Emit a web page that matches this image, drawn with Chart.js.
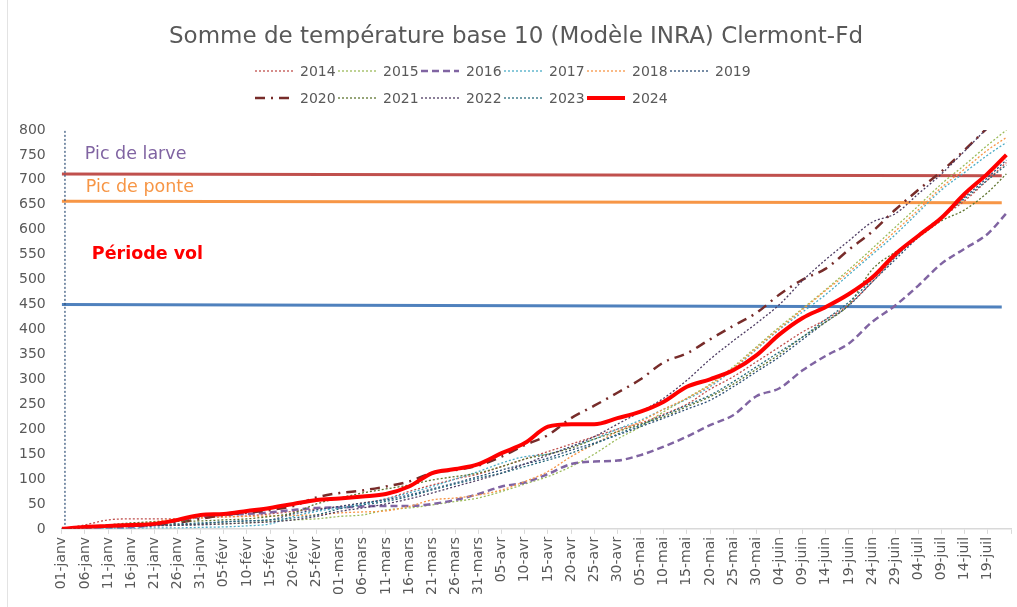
<!DOCTYPE html>
<html>
<head>
<meta charset="utf-8">
<script src="https://cdn.jsdelivr.net/npm/chart.js@4.4.1/dist/chart.umd.min.js"></script>
<style>
html, body { margin: 0; padding: 0; background: #fff; }
#wrap { position: relative; width: 1017px; height: 607px; }
#leftBorder { position: absolute; left: 7px; top: 0; width: 1px; height: 607px; background: #e3e3e3; }
#title { position: absolute; left: 0; top: 21px; width: 1032px; text-align: center; font: 23px "DejaVu Sans"; line-height: 28px; color: #595959; white-space: nowrap; }
#legend { position: absolute; left: 255px; top: 57px; font: 14px "DejaVu Sans"; color: #595959; }
.row { display: flex; height: 27px; align-items: center; }
.item { display: flex; align-items: center; width: 83px; }
.item canvas { margin-right: 7px; }
</style>
</head>
<body>
<div id="wrap">
  <canvas id="chart" width="1017" height="607"></canvas>
  <div id="leftBorder"></div>
  <div id="title">Somme de température base 10 (Modèle INRA) Clermont-Fd</div>
  <div id="legend"></div>
</div>
<script>
// Axis labels (one per day, 2024 is a leap year) : 01-janv .. 24-juil
const months = ['janv', 'févr', 'mars', 'avr', 'mai', 'juin', 'juil'];
const monthDays = [31, 29, 31, 30, 31, 30, 24];
const dayLabels = [];
months.forEach((m, i) => {
    for (let d = 1; d <= monthDays[i]; d++) {
        dayLabels.push(String(d).padStart(2, '0') + '-' + m);
    }
});
const lastIndex = dayLabels.length - 1; // 24-juil, tick drawn but not labelled

const days = [0, 5, 10, 15, 20, 25, 30, 35, 40, 45, 50, 55, 60, 65, 70, 75, 80, 85, 90, 95,
    100, 105, 110, 115, 120, 125, 130, 135, 140, 145, 150, 155, 160, 165, 170, 175, 180, 185, 190, 195, 200, 204];

const y2014 = [0, 8, 18, 20, 20, 20, 22, 24, 26, 30, 35, 40, 45, 52, 60, 75, 88, 100, 110, 125,
    140, 155, 170, 185, 200, 212, 230, 250, 280, 305, 335, 365, 395, 420, 450, 495, 545, 590, 625, 658, 700, 735];
const y2015 = [0, 2, 4, 6, 7, 8, 9, 10, 12, 15, 18, 20, 25, 28, 38, 42, 48, 55, 62, 75,
    90, 105, 125, 150, 180, 205, 235, 262, 290, 325, 365, 405, 442, 480, 520, 562, 605, 648, 692, 730, 770, 800];
const y2016 = [0, 1, 2, 3, 8, 16, 24, 28, 30, 33, 38, 42, 43, 45, 46, 46, 50, 58, 70, 85,
    93, 110, 130, 135, 137, 148, 165, 185, 208, 228, 266, 282, 318, 347, 372, 415, 448, 488, 532, 562, 592, 633];
const y2017 = [0, 0, 1, 1, 2, 2, 3, 4, 6, 10, 25, 35, 42, 50, 60, 72, 85, 100, 115, 132,
    145, 150, 165, 180, 200, 218, 240, 260, 285, 320, 360, 400, 435, 470, 510, 550, 590, 635, 680, 715, 750, 775];
const y2018 = [0, 3, 6, 10, 15, 20, 22, 24, 25, 26, 27, 28, 32, 34, 36, 45, 58, 62, 68, 78,
    95, 115, 145, 170, 195, 215, 240, 262, 288, 322, 362, 402, 440, 478, 515, 555, 597, 640, 685, 722, 760, 785];
const y2019 = [0, 3, 5, 6, 7, 8, 10, 14, 16, 18, 30, 38, 45, 52, 58, 68, 80, 92, 105, 118,
    130, 142, 158, 172, 188, 205, 222, 240, 258, 285, 315, 345, 380, 415, 448, 495, 540, 585, 625, 665, 705, 740];
const y2020 = [0, 3, 5, 6, 8, 12, 20, 28, 32, 38, 46, 63, 72, 77, 85, 95, 112, 118, 127, 145,
    168, 188, 222, 247, 273, 300, 334, 352, 380, 407, 433, 470, 500, 522, 560, 596, 640, 680, 717, 760, 805, 840];
const y2021 = [0, 3, 8, 12, 14, 15, 16, 18, 20, 25, 32, 50, 62, 72, 80, 88, 98, 105, 112, 125,
    140, 150, 162, 180, 195, 210, 225, 245, 265, 290, 320, 350, 385, 415, 450, 520, 555, 585, 618, 640, 675, 712];
const y2022 = [0, 2, 4, 5, 6, 7, 8, 10, 12, 14, 18, 25, 35, 42, 50, 60, 72, 85, 98, 112,
    130, 148, 165, 185, 210, 235, 262, 298, 340, 377, 412, 450, 498, 540, 578, 615, 632, 672, 712, 758, 805, 840];
const y2023 = [0, 4, 7, 8, 9, 10, 12, 14, 16, 18, 22, 28, 40, 48, 55, 65, 78, 90, 102, 112,
    125, 138, 152, 170, 190, 208, 228, 248, 268, 295, 325, 355, 385, 420, 455, 500, 545, 588, 625, 662, 700, 730];
const y2024 = [0, 4, 6, 8, 10, 18, 28, 30, 36, 42, 50, 58, 61, 65, 70, 85, 112, 120, 130, 152,
    172, 205, 210, 210, 222, 235, 255, 285, 300, 318, 348, 390, 423, 445, 471, 504, 551, 588, 624, 672, 713, 750];

// Reference levels [start, end] and the day span they cover
const levelDays = [0, 203];
const picLarve = [712, 708];
const picPonte = [657, 654];
const periodeVol = [450, 445];

// Stray vertical series at the start
const strayDays = [0.7, 0.7];
const strayValues = [0, 800];

const yTicks = [0, 50, 100, 150, 200, 250, 300, 350, 400, 450, 500, 550, 600, 650, 700, 750, 800];

const pts = (xs, ys) => xs.map((x, i) => ({ x: x, y: ys[i] }));
const DOT = [2, 2];

const series = [
    { label: '2014', data: y2014, color: '#c0504d', width: 1.3, dash: DOT },
    { label: '2015', data: y2015, color: '#9bbb59', width: 1.3, dash: DOT },
    { label: '2016', data: y2016, color: '#8064a2', width: 2.5, dash: [7, 4] },
    { label: '2017', data: y2017, color: '#4bacc6', width: 1.3, dash: DOT },
    { label: '2018', data: y2018, color: '#f79646', width: 1.3, dash: DOT },
    { label: '2019', data: y2019, color: '#2c4d75', width: 1.3, dash: DOT },
    { label: '2020', data: y2020, color: '#772c2a', width: 2.5, dash: [10, 6, 2, 6] },
    { label: '2021', data: y2021, color: '#5f7530', width: 1.3, dash: DOT },
    { label: '2022', data: y2022, color: '#4d3b62', width: 1.3, dash: DOT },
    { label: '2023', data: y2023, color: '#276a7c', width: 1.3, dash: DOT },
    { label: '2024', data: y2024, color: '#ff0000', width: 4, dash: [] }
];

const datasets = series.map((s, i) => ({
    label: s.label,
    data: pts(days, s.data),
    borderColor: s.color,
    borderWidth: s.width,
    borderDash: s.dash,
    pointRadius: 0,
    fill: false,
    cubicInterpolationMode: 'monotone',
    order: series.length - i
}));

const level = (label, values, color) => ({
    label: label,
    data: pts(levelDays, values),
    borderColor: color,
    borderWidth: 3,
    pointRadius: 0,
    fill: false,
    order: 30
});
datasets.push(level('larve', picLarve, '#c0504d'));
datasets.push(level('ponte', picPonte, '#f79646'));
datasets.push(level('vol', periodeVol, '#4f81bd'));
datasets.push({
    label: 'stray',
    data: pts(strayDays, strayValues),
    borderColor: '#2c4d75',
    borderWidth: 1.2,
    borderDash: DOT,
    pointRadius: 0,
    order: 25
});

// Text labels placed at data coordinates
const notes = [
    { text: 'Pic de larve', day: 5, value: 750, color: '#8064a2', font: '17.5px "DejaVu Sans"' },
    { text: 'Pic de ponte', day: 5.2, value: 685, color: '#f79646', font: '17.5px "DejaVu Sans"' },
    { text: 'Période vol', day: 6.5, value: 550, color: '#ff0000', font: 'bold 17.5px "DejaVu Sans"' }
];

const notesPlugin = {
    id: 'notes',
    afterDatasetsDraw(chart) {
        const ctx = chart.ctx;
        const xs = chart.scales.x, ys = chart.scales.y;
        ctx.save();
        ctx.textAlign = 'left';
        ctx.textBaseline = 'middle';
        notes.forEach(n => {
            ctx.font = n.font;
            ctx.fillStyle = n.color;
            ctx.fillText(n.text, xs.getPixelForValue(n.day), ys.getPixelForValue(n.value));
        });
        ctx.restore();
    }
};

Chart.defaults.font.family = '"DejaVu Sans", Verdana, sans-serif';
Chart.defaults.color = '#595959';

const chart = new Chart(document.getElementById('chart'), {
    type: 'line',
    data: { datasets: datasets },
    options: {
        responsive: false,
        animation: false,
        layout: { padding: { left: 3, right: 6, top: 130, bottom: 9 } },
        plugins: {
            legend: { display: false },
            tooltip: { enabled: false },
            title: { display: false }
        },
        scales: {
            x: {
                type: 'linear',
                min: 0,
                max: lastIndex,
                afterBuildTicks: (axis) => {
                    const t = [];
                    for (let i = 0; i <= lastIndex; i += 5) t.push({ value: i });
                    axis.ticks = t;
                },
                afterFit: (axis) => { axis.paddingLeft = 0; axis.paddingRight = 0; },
                ticks: {
                    autoSkip: false,
                    minRotation: 90,
                    maxRotation: 90,
                    padding: 3,
                    font: { size: 14 },
                    color: '#595959',
                    callback: (v) => (v < lastIndex ? dayLabels[v] : '')
                },
                grid: { display: true, drawOnChartArea: false, drawTicks: true, tickLength: 5, color: '#d9d9d9' },
                border: { display: true, color: '#d9d9d9', width: 1.5 }
            },
            y: {
                min: 0,
                max: 800,
                afterBuildTicks: (axis) => { axis.ticks = yTicks.map(v => ({ value: v })); },
                ticks: { padding: 16, font: { size: 14 }, color: '#595959' },
                grid: { display: false, drawTicks: false },
                border: { display: false }
            }
        }
    },
    plugins: [notesPlugin]
});

// Legend in two left-aligned rows, like the original
const legendRows = [series.slice(0, 6), series.slice(6)];
const legendEl = document.getElementById('legend');
legendRows.forEach(rowItems => {
    const row = document.createElement('div');
    row.className = 'row';
    rowItems.forEach(s => {
        const item = document.createElement('div');
        item.className = 'item';
        const c = document.createElement('canvas');
        c.width = 38; c.height = 10;
        const g = c.getContext('2d');
        g.strokeStyle = s.color;
        g.lineWidth = s.width;
        g.setLineDash(s.dash);
        g.beginPath(); g.moveTo(0, 5); g.lineTo(38, 5); g.stroke();
        item.appendChild(c);
        const t = document.createElement('span');
        t.textContent = s.label;
        item.appendChild(t);
        row.appendChild(item);
    });
    legendEl.appendChild(row);
});
</script>
</body>
</html>
